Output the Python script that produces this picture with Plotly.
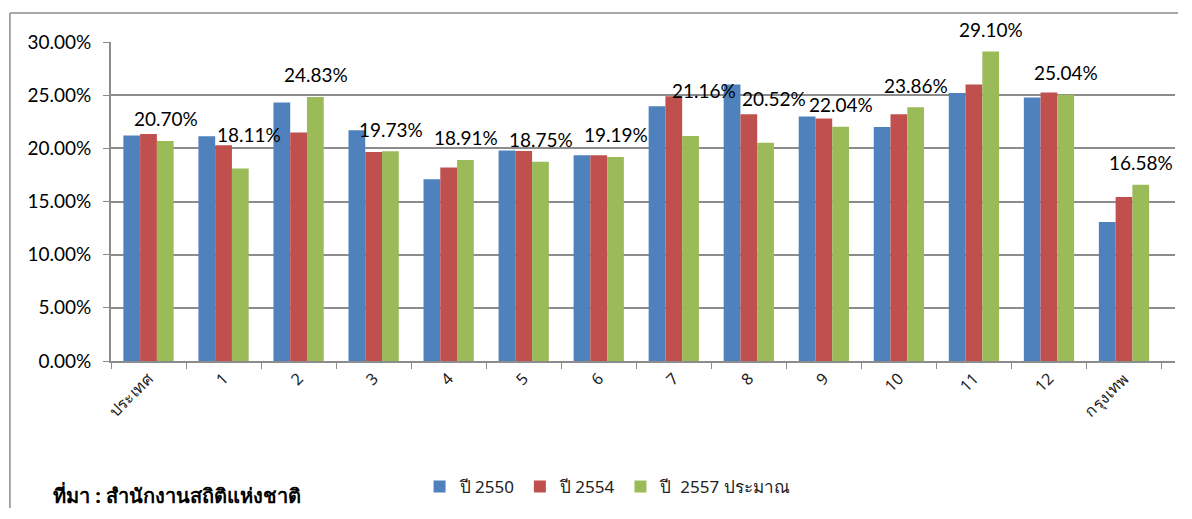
import plotly.graph_objects as go

# regions (ประเทศ = whole country, 1-12 = regions, กรุงเทพ = Bangkok)
regions = ["ประเทศ", "1", "2", "3", "4", "5", "6", "7", "8", "9", "10", "11", "12", "กรุงเทพ"]

y2550 = [21.20, 21.13, 24.30, 21.70, 17.10, 19.80, 19.35, 23.96, 26.00, 23.00, 22.00, 25.20, 24.77, 13.07]
y2554 = [21.35, 20.30, 21.50, 19.66, 18.20, 19.75, 19.35, 24.90, 23.20, 22.80, 23.20, 26.00, 25.24, 15.43]
y2557 = [20.70, 18.11, 24.83, 19.73, 18.91, 18.75, 19.19, 21.16, 20.52, 22.04, 23.86, 29.10, 25.04, 16.58]

series_names = ["ปี 2550", "ปี 2554", "ปี  2557 ประมาณ"]
colors = ["#4F81BD", "#C0504D", "#9BBB59"]

ytick_vals = [0, 5, 10, 15, 20, 25, 30]

# label nudges (px) where the labels were moved by hand in the original
label_shift = {"1": (8, 34), "7": (13, 46), "8": (8, 44)}

fig = go.Figure()
for name, vals, col in zip(series_names, [y2550, y2554, y2557], colors):
    fig.add_trace(go.Bar(x=regions, y=vals, name=name,
                         marker=dict(color=col, line=dict(width=0))))

for r, v in zip(regions, y2557):
    dx, dy = label_shift.get(r, (0, 22))
    fig.add_annotation(x=r, y=v, text=f"{v:.2f}%", showarrow=False,
                       xshift=17 + dx, yshift=dy,
                       font=dict(family="Lato", size=19, color="#000"))

# outer chart frame (left and top only visible)
fig.add_shape(type="line", xref="paper", yref="paper", x0=-0.095, x1=-0.095,
              y0=1.091, y1=-0.6, line=dict(color="#8c8c8c", width=1.5))
fig.add_shape(type="line", xref="paper", yref="paper", x0=-0.095, x1=1.02,
              y0=1.091, y1=1.091, line=dict(color="#8c8c8c", width=1.5))

fig.add_annotation(xref="paper", yref="paper", x=-0.0564, y=-0.42, xanchor="left",
                   yanchor="middle", showarrow=False,
                   text="<b>ที่มา : สำนักงานสถิติแห่งชาติ</b>",
                   font=dict(family="Noto Sans", size=20, color="#000"))

# page body has an 8px margin, keep the figure inside the window
fig.update_layout(
    width=1170, height=500,
    margin=dict(l=103, r=3, t=34, b=147, autoexpand=False),
    plot_bgcolor="white", paper_bgcolor="white",
    barmode="group", bargap=0.33, bargroupgap=0,
    showlegend=True,
    legend=dict(orientation="h", x=0.29, y=-0.395, xanchor="left", yanchor="middle",
                font=dict(family="Noto Sans", size=17, color="#222"),
                itemwidth=30, traceorder="normal"),
    xaxis=dict(type="category", tickangle=-45, tickson="boundaries", automargin=False,
               ticks="outside", ticklen=6, tickcolor="#8c8c8c",
               showline=True, linecolor="#8c8c8c", linewidth=2,
               tickfont=dict(family="Noto Sans", size=16, color="#222")),
    yaxis=dict(range=[0, 30], tickvals=ytick_vals, automargin=False,
               ticktext=[f"{v:.2f}%" for v in ytick_vals],
               ticks="outside", ticklen=6, tickcolor="#8c8c8c", ticklabelstandoff=8,
               showline=True, linecolor="#8c8c8c", linewidth=2,
               showgrid=True, gridcolor="#8c8c8c", gridwidth=2,
               zeroline=False,
               tickfont=dict(family="Lato", size=19, color="#000")),
)

fig.write_html("out.html")
